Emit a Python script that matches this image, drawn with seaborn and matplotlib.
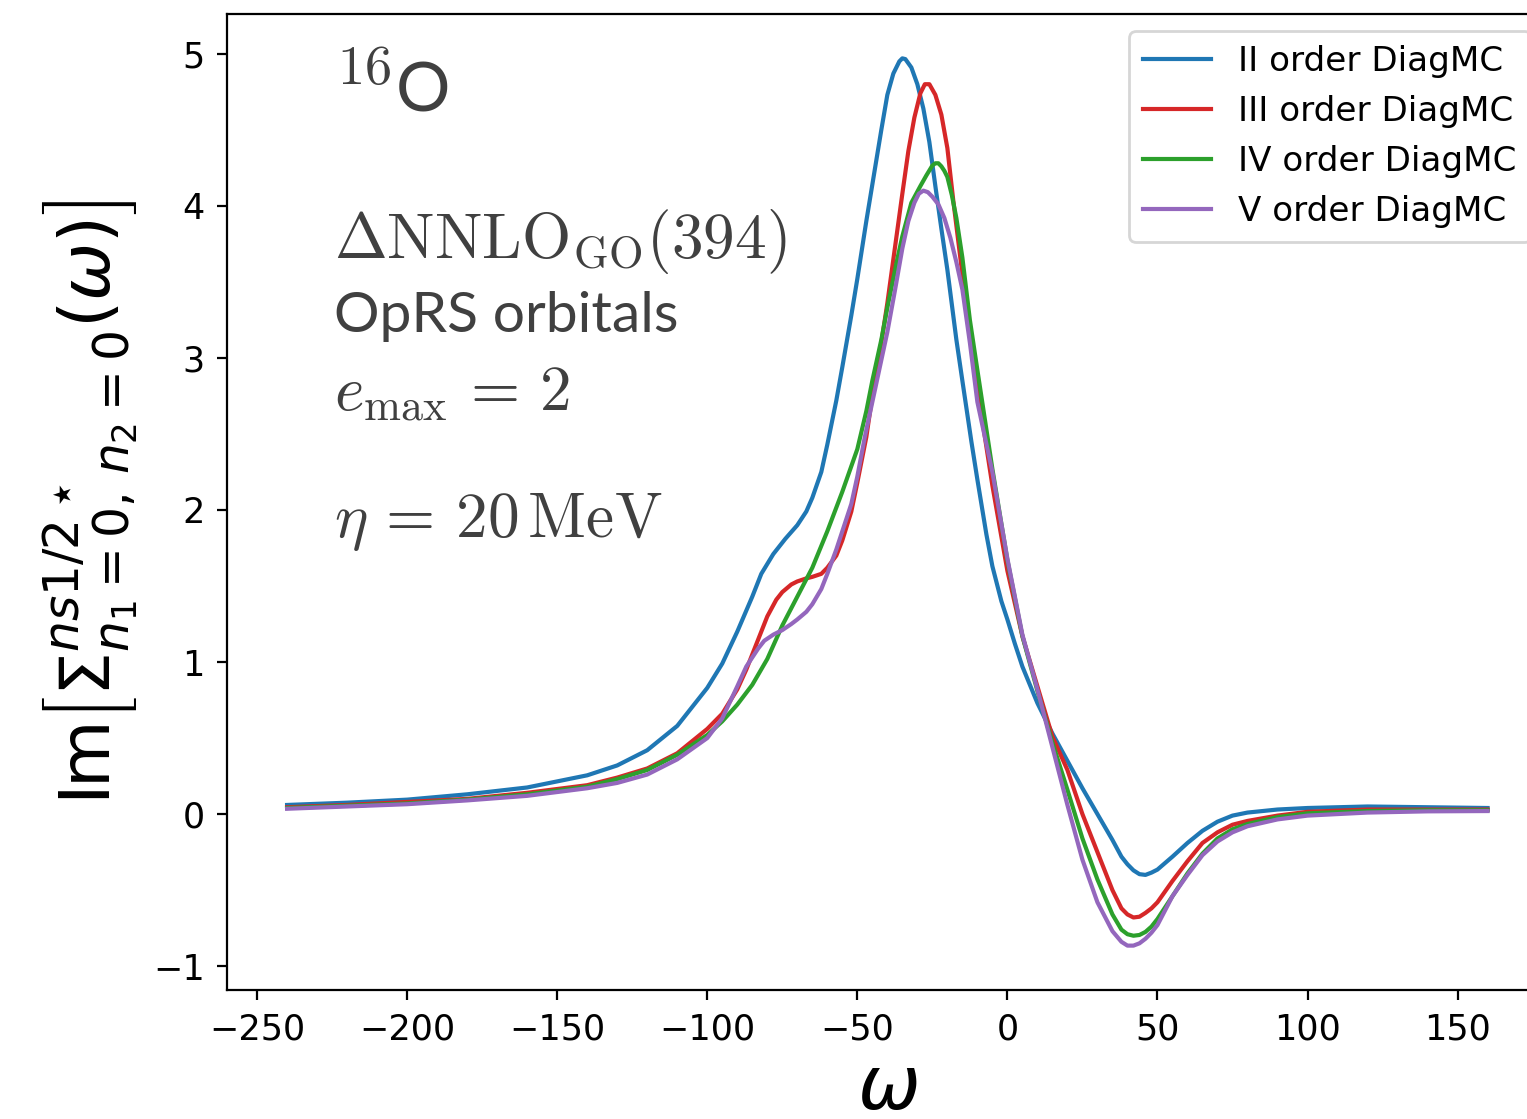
import pandas as pd
import matplotlib
matplotlib.use("Agg")
import matplotlib.pyplot as plt
import seaborn as sns

# ------------------------------------------------------------------
# Im Sigma(omega), one x/y pair per DiagMC order
# ------------------------------------------------------------------
x_ii = [-240, -220, -200, -180, -160, -140, -130, -120, -110, -100, -95, -90, -85,
        -82, -78, -74, -70, -67, -65, -62, -60, -57, -55, -52, -50, -47, -45, -42,
        -40, -38, -36, -35, -34, -32, -30, -28, -26, -24, -22, -20, -17, -15, -12,
        -10, -7, -5, -2, 0, 2.5, 5, 10, 15, 20, 25, 30, 35, 38, 40, 42, 44, 46, 48,
        50, 55, 60, 65, 70, 75, 80, 90, 100, 120, 140, 160]
y_ii = [0.06, 0.075, 0.095, 0.13, 0.175, 0.255, 0.32, 0.42, 0.58, 0.83, 0.99, 1.20, 1.43,
        1.58, 1.71, 1.81, 1.90, 1.99, 2.08, 2.25, 2.43, 2.72, 2.94, 3.28, 3.52, 3.90, 4.14, 4.50,
        4.73, 4.87, 4.95, 4.97, 4.965, 4.91, 4.80, 4.64, 4.42, 4.13, 3.85, 3.58, 3.12, 2.85, 2.45,
        2.20, 1.84, 1.63, 1.40, 1.28, 1.12, 0.97, 0.73, 0.53, 0.35, 0.17, 0.0, -0.17, -0.28,
        -0.33, -0.37, -0.395, -0.40, -0.385, -0.365, -0.28, -0.19, -0.11, -0.05, -0.01, 0.01,
        0.03, 0.04, 0.05, 0.045, 0.04]

x_iii = [-240, -220, -200, -180, -160, -140, -130, -120, -110, -100, -95, -90, -87,
         -85, -82, -80, -77, -75, -72, -70, -67, -65, -62, -60, -57, -55, -52, -50,
         -47, -45, -42, -40, -37.5, -35, -33, -31, -29, -27.5, -26, -24, -22, -20,
         -18, -15, -10, -5, 0, 5, 10, 15, 20, 25, 30, 35, 38, 40, 42, 44, 46, 48, 50,
         55, 60, 65, 70, 75, 80, 90, 100, 120, 140, 160]
y_iii = [0.045, 0.06, 0.08, 0.10, 0.14, 0.19, 0.24, 0.30, 0.40, 0.56, 0.66, 0.82, 0.95,
         1.05, 1.20, 1.30, 1.41, 1.46, 1.51, 1.53, 1.55, 1.56, 1.58, 1.62, 1.70, 1.80, 1.99, 2.18,
         2.48, 2.75, 3.10, 3.36, 3.72, 4.08, 4.36, 4.58, 4.74, 4.80, 4.80, 4.73, 4.60, 4.38,
         4.03, 3.55, 2.80, 2.16, 1.60, 1.17, 0.84, 0.51, 0.29, 0.0, -0.25, -0.50, -0.62, -0.66,
         -0.68, -0.675, -0.65, -0.62, -0.58, -0.44, -0.31, -0.19, -0.12, -0.07, -0.045, -0.01,
         0.015, 0.03, 0.03, 0.03]

x_iv = [-240, -220, -200, -180, -160, -140, -130, -120, -110, -100, -95, -90, -85,
        -80, -75, -70, -65, -60, -55, -50, -47, -45, -42, -40, -37, -35, -32, -29,
        -27, -25, -24, -23, -22, -21, -20, -18.5, -17, -15, -12.5, -10, -5, 0, 5, 10,
        15, 20, 25, 30, 35, 38, 40, 42, 44, 46, 48, 50, 55, 60, 65, 70, 75, 80, 90,
        100, 120, 140, 160]
y_iv = [0.04, 0.055, 0.07, 0.095, 0.13, 0.18, 0.23, 0.29, 0.39, 0.52, 0.61, 0.72, 0.85,
        1.02, 1.24, 1.43, 1.62, 1.86, 2.12, 2.40, 2.65, 2.85, 3.12, 3.33, 3.62, 3.80, 4.02, 4.13,
        4.20, 4.265, 4.28, 4.28, 4.26, 4.23, 4.19, 4.07, 3.92, 3.66, 3.25, 2.92, 2.27, 1.67, 1.17,
        0.81, 0.47, 0.16, -0.16, -0.43, -0.66, -0.76, -0.79, -0.80, -0.795, -0.775, -0.74, -0.69,
        -0.54, -0.39, -0.26, -0.16, -0.10, -0.065, -0.02, 0.005, 0.02, 0.025, 0.025]

x_v = [-240, -220, -200, -180, -160, -140, -130, -120, -110, -100, -95, -90, -87,
       -85, -83, -81, -78, -75, -72, -70, -67, -65, -62, -60, -57, -55, -52, -50,
       -47.5, -45, -42.5, -40, -37.5, -35, -33, -31, -29.5, -28, -26.5, -25, -23, -21,
       -19, -17, -15, -12.5, -10, -5, 0, 5, 10, 15, 20, 25, 30, 35, 38, 40, 42, 44,
       46, 48, 50, 55, 60, 65, 70, 75, 80, 90, 100, 120, 140, 160]
y_v = [0.035, 0.05, 0.065, 0.09, 0.12, 0.17, 0.205, 0.26, 0.36, 0.50, 0.63, 0.84, 0.97,
       1.03, 1.09, 1.14, 1.18, 1.21, 1.25, 1.28, 1.33, 1.38, 1.48, 1.58, 1.74, 1.86, 2.04, 2.22,
       2.48, 2.71, 2.94, 3.17, 3.44, 3.72, 3.90, 4.02, 4.08, 4.10, 4.09, 4.06, 4.01, 3.92,
       3.79, 3.63, 3.45, 3.10, 2.71, 2.25, 1.68, 1.18, 0.82, 0.44, 0.06, -0.30, -0.58, -0.77,
       -0.84, -0.865, -0.865, -0.85, -0.82, -0.78, -0.73, -0.54, -0.40, -0.27, -0.18, -0.12,
       -0.08, -0.035, -0.01, 0.01, 0.018, 0.02]

labels = ["II order DiagMC", "III order DiagMC", "IV order DiagMC", "V order DiagMC"]
colors = ["#1f77b4", "#d62728", "#2ca02c", "#9467bd"]

frames = []
for lab, xs, ys in zip(labels, [x_ii, x_iii, x_iv, x_v], [y_ii, y_iii, y_iv, y_v]):
    frames.append(pd.DataFrame({"omega": xs, "im_sigma": ys, "order": lab}))
df = pd.concat(frames, ignore_index=True)

# ------------------------------------------------------------------
fig = plt.figure(figsize=(7.635, 5.595), dpi=200)
# right spine sits just outside the saved picture, as in the reference
ax = fig.add_axes([0.1487, 0.1153, 0.8648, 0.8722])

sns.lineplot(data=df, x="omega", y="im_sigma", hue="order", hue_order=labels,
             palette=colors, estimator=None, linewidth=1.5, ax=ax)

ax.tick_params(labelsize=12.6, pad=4.5)
ax.set_xlabel(r"$\omega$", fontsize=27, math_fontfamily="dejavusans", labelpad=2)
ax.set_ylabel(r"$\mathrm{Im}\left[\Sigma^{ns1/2\star}_{n_1=0,\,n_2=0}(\omega)\right]$",
              fontsize=25, math_fontfamily="dejavusans", labelpad=5)

leg = ax.legend(loc="upper right", fontsize=12.3)
leg.set_title(None)

txt_color = "#404040"
tx = 0.081
ax.text(tx, 0.90, r"$^{16}$", transform=ax.transAxes, fontsize=28,
        color=txt_color, math_fontfamily="cm", va="baseline")
ax.text(0.128, 0.90, "O", transform=ax.transAxes, fontsize=24.5,
        family="Lato", color=txt_color, va="baseline")
ax.text(tx, 0.75, r"$\Delta\mathrm{NNLO}_{\mathrm{GO}}(394)$", transform=ax.transAxes,
        fontsize=22.8, color=txt_color, math_fontfamily="cm", va="baseline")
ax.text(tx, 0.674, "OpRS orbitals", transform=ax.transAxes, fontsize=20.5,
        family="Lato", color=txt_color, va="baseline")
ax.text(tx, 0.594, r"$e_{\max}\,=\,2$", transform=ax.transAxes, fontsize=22.8,
        color=txt_color, math_fontfamily="cm", va="baseline")
ax.text(tx, 0.464, r"$\eta\,=\,20\,\mathrm{MeV}$", transform=ax.transAxes, fontsize=22.8,
        color=txt_color, math_fontfamily="cm", va="baseline")

fig.savefig("out.png", dpi=200)
plt.close(fig)
